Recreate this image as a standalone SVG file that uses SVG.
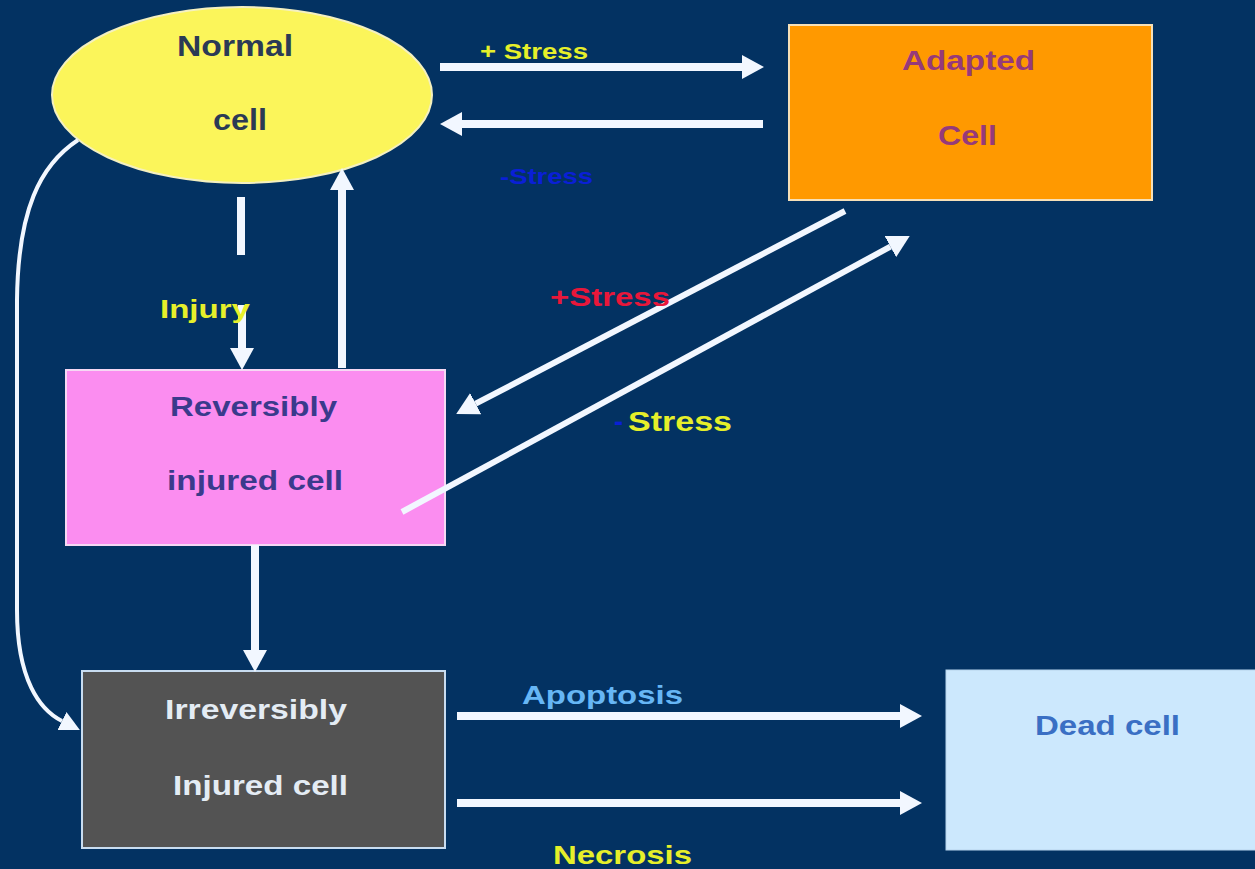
<svg xmlns="http://www.w3.org/2000/svg" width="1255" height="869" viewBox="0 0 1255 869">
<defs>
<style>
.t{font-family:"Liberation Sans",Arial,sans-serif;font-weight:bold;}
.ln{fill:none;stroke:#f2f7ff;stroke-width:8;stroke-linecap:butt;}
.dg{stroke-width:6;}
.cv{stroke-width:4;}
</style>
<marker id="ah" markerUnits="userSpaceOnUse" markerWidth="22" markerHeight="24" refX="0" refY="12" orient="auto" viewBox="0 0 22 24">
<path d="M0,0 L22,12 L0,24 Z" fill="#f2f7ff"/>
</marker>
<marker id="ahs" markerUnits="userSpaceOnUse" markerWidth="20" markerHeight="20" refX="0" refY="10" orient="auto" viewBox="0 0 20 20">
<path d="M0,0 L20,10 L0,20 Z" fill="#f2f7ff"/>
</marker>
</defs>
<rect x="0" y="0" width="1255" height="869" fill="#033262"/>

<g id="normal-cell">
<ellipse cx="242" cy="95" rx="190" ry="88" fill="#fbf55a" stroke="#f4f0c0" stroke-width="2"/>
<text class="t" x="177" y="56" font-size="30" fill="#2b3a55" textLength="116" lengthAdjust="spacingAndGlyphs">Normal</text>
<text class="t" x="213" y="130" font-size="30" fill="#2b3a55" textLength="54" lengthAdjust="spacingAndGlyphs">cell</text>
</g>

<g id="adapted-cell">
<rect x="789" y="25" width="363" height="175" fill="#ff9900" stroke="#f6e0b8" stroke-width="2"/>
<text class="t" x="902" y="70" font-size="28" fill="#963a7a" textLength="133" lengthAdjust="spacingAndGlyphs">Adapted</text>
<text class="t" x="938" y="145" font-size="28" fill="#963a7a" textLength="59" lengthAdjust="spacingAndGlyphs">Cell</text>
</g>

<g id="reversibly-injured">
<rect x="66" y="370" width="379" height="175" fill="#fb8df0" stroke="#f6d8f4" stroke-width="2"/>
<text class="t" x="170" y="416" font-size="27" fill="#3a3a8c" textLength="167" lengthAdjust="spacingAndGlyphs">Reversibly</text>
<text class="t" x="167" y="490" font-size="27" fill="#3a3a8c" textLength="176" lengthAdjust="spacingAndGlyphs">injured cell</text>
</g>

<g id="irreversibly-injured">
<rect x="82" y="671" width="363" height="177" fill="#535353" stroke="#c8dcf0" stroke-width="2"/>
<text class="t" x="165" y="719" font-size="27" fill="#e4ecf4" textLength="182" lengthAdjust="spacingAndGlyphs">Irreversibly</text>
<text class="t" x="173" y="795" font-size="27" fill="#e4ecf4" textLength="175" lengthAdjust="spacingAndGlyphs">Injured cell</text>
</g>

<g id="dead-cell">
<rect x="946" y="670" width="312" height="180" fill="#cce8fd" stroke="#b8d4ec" stroke-width="1"/>
<text class="t" x="1035" y="735" font-size="27" fill="#3a6fc4" textLength="145" lengthAdjust="spacingAndGlyphs">Dead cell</text>
</g>

<g id="connectors">
<line class="ln" x1="440" y1="67" x2="742" y2="67" marker-end="url(#ah)"/>
<line class="ln" x1="763" y1="124" x2="462" y2="124" marker-end="url(#ah)"/>
<line class="ln" x1="241" y1="197" x2="241" y2="255"/>
<line class="ln" x1="242" y1="305" x2="242" y2="348" marker-end="url(#ah)"/>
<line class="ln" x1="342" y1="368" x2="342" y2="190" marker-end="url(#ah)"/>
<line class="ln dg" x1="845" y1="211" x2="475.7" y2="403.7" marker-end="url(#ah)"/>
<line class="ln dg" x1="402" y1="512" x2="890.4" y2="246.6" marker-end="url(#ah)"/>
<line class="ln" x1="255" y1="545" x2="255" y2="650" marker-end="url(#ah)"/>
<path class="ln cv" d="M78,140 C40,165 18,210 17,300 L17,610 C17,680 40,710 62,721" marker-end="url(#ahs)"/>
<line class="ln" x1="457" y1="716" x2="900" y2="716" marker-end="url(#ah)"/>
<line class="ln" x1="457" y1="803" x2="900" y2="803" marker-end="url(#ah)"/>
</g>

<g id="labels">
<text class="t" x="480" y="59" font-size="22" fill="#e6ef2a" textLength="108" lengthAdjust="spacingAndGlyphs">+ Stress</text>
<text class="t" x="500" y="184" font-size="22" fill="#0a1fd6" textLength="93" lengthAdjust="spacingAndGlyphs">-Stress</text>
<text class="t" x="160" y="318" font-size="25" fill="#e6ef2a" textLength="90" lengthAdjust="spacingAndGlyphs">Injury</text>
<text class="t" x="550" y="306" font-size="26" fill="#e8173a" textLength="120" lengthAdjust="spacingAndGlyphs">+Stress</text>
<text class="t" x="614" y="431" font-size="27" fill="#e6ef2a"><tspan fill="#0a1fd6">-</tspan><tspan x="628" textLength="104" lengthAdjust="spacingAndGlyphs">Stress</tspan></text>
<text class="t" x="522" y="704" font-size="26" fill="#66b6f5" textLength="161" lengthAdjust="spacingAndGlyphs">Apoptosis</text>
<text class="t" x="553" y="864" font-size="26" fill="#e6ef2a" textLength="139" lengthAdjust="spacingAndGlyphs">Necrosis</text>
</g>
</svg>
